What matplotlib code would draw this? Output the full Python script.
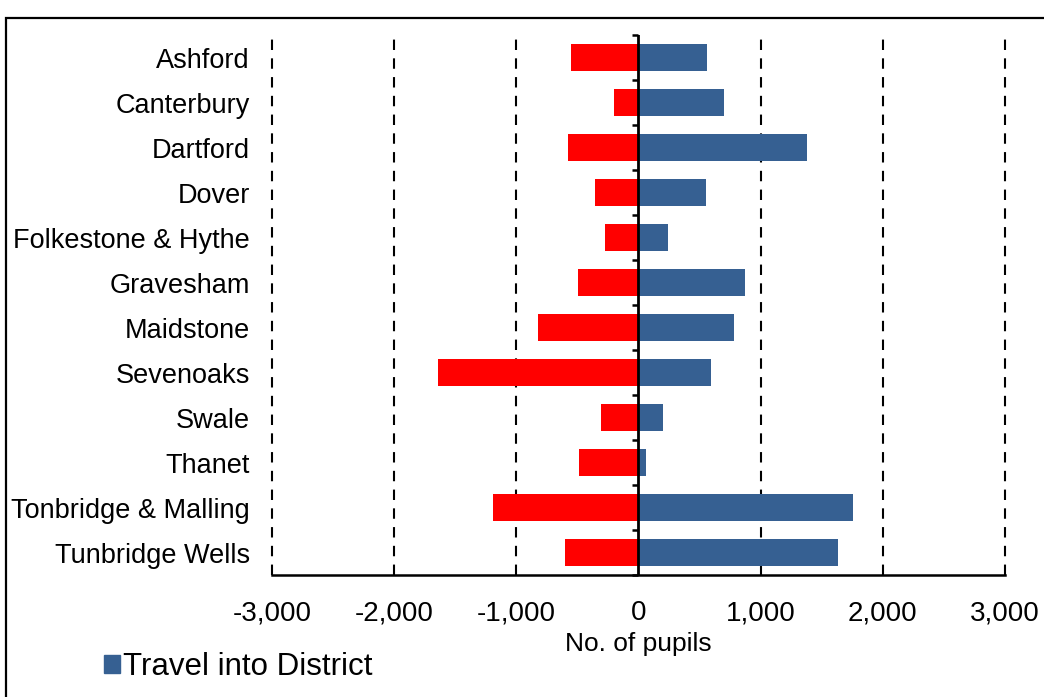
import matplotlib.pyplot as plt
from matplotlib.patches import Patch, Rectangle
import numpy as np

plt.rcParams['font.family'] = ['Liberation Sans', 'DejaVu Sans']

# Veriler
districts = ["Ashford", "Canterbury", "Dartford", "Dover", "Folkestone & Hythe",
             "Gravesham", "Maidstone", "Sevenoaks", "Swale", "Thanet",
             "Tonbridge & Malling", "Tunbridge Wells"]
travel_out = [-550, -200, -575, -355, -277, -497, -821, -1642, -304, -489, -1188, -597]
travel_into = [565, 703, 1378, 557, 246, 875, 785, 591, 205, 66, 1755, 1633]
x_ticks = [-3000, -2000, -1000, 0, 1000, 2000, 3000]

red = '#FF0000'
blue = '#366092'

fig = plt.figure(figsize=(10.44, 6.97), dpi=100)
ax = fig.add_axes([0.2605, 0.175, 0.702, 0.7747])

y = np.arange(len(districts))
ax.barh(y, travel_out, height=0.6, color=red, zorder=2)
ax.barh(y, travel_into, height=0.6, color=blue, zorder=2)

# dikey kesikli çizgiler
for xv in x_ticks:
    if xv != 0:
        ax.axvline(xv, color='black', lw=1.5, dashes=(5, 4), zorder=1, clip_on=False)
ax.axvline(0, color='black', lw=2, zorder=3)

ax.set_xlim(-3000, 3000)
ax.set_ylim(len(districts) - 0.5, -0.5)
ax.set_xticks(x_ticks)
ax.set_xticklabels([f"{v:,}" for v in x_ticks])
ax.set_yticks(y)
ax.set_yticklabels(districts)
ax.tick_params(axis='y', length=0, pad=16, labelsize=19.5)
ax.tick_params(axis='x', length=0, pad=18, labelsize=20)
ax.set_xlabel("No. of pupils", fontsize=19, labelpad=4.5)

for s in ['top', 'right', 'left']:
    ax.spines[s].set_visible(False)
ax.spines['bottom'].set_linewidth(1.8)

# kategori sınırı işaretleri (sıfır çizgisinde)
sec = ax.secondary_yaxis(0.5)
sec.set_yticks(np.arange(len(districts) + 1) - 0.5)
sec.set_yticklabels([])
sec.tick_params(axis='y', direction='in', length=4, width=1.8)
sec.spines['left'].set_visible(False)
sec.spines['right'].set_visible(False)

# lejant
ax.legend(handles=[Patch(color=blue, label="Travel into District")],
          loc='center left', bbox_to_anchor=(0.1, 1 - 667 / 697),
          bbox_transform=fig.transFigure, frameon=False, fontsize=22.5,
          handlelength=0.5, handleheight=0.5, handletextpad=0.1,
          borderaxespad=0, borderpad=0)

# grafik alanı çerçevesi
fig.patches.append(Rectangle((0.0055, -0.2), 1.3, 0.974 + 0.2, transform=fig.transFigure,
                             fill=False, lw=1.6, edgecolor='black'))

fig.savefig("out.png", dpi=100)
